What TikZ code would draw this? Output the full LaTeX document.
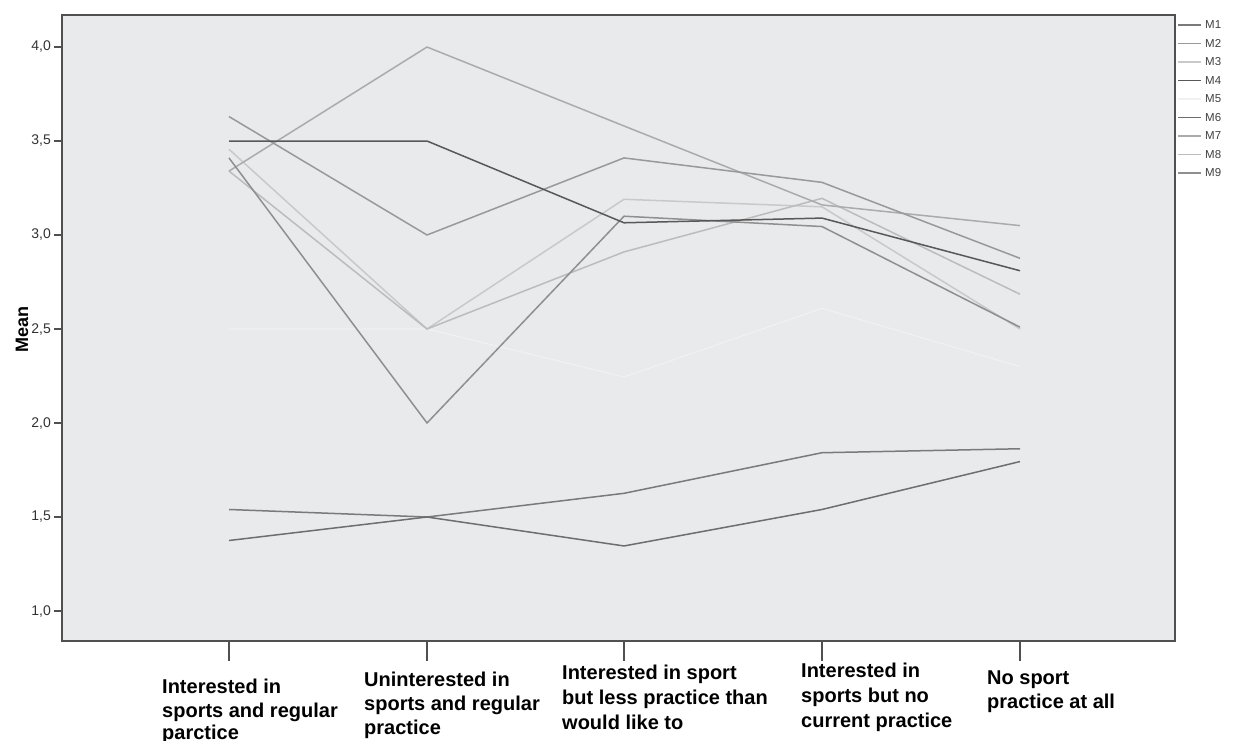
\documentclass[tikz,border=0pt]{standalone}
\usepackage{fontspec}
\setmainfont{Liberation Sans}
\definecolor{plotbg}{HTML}{E9EAEC}
\definecolor{framec}{HTML}{505050}
\definecolor{cM1}{HTML}{7A7A7A}
\definecolor{cM2}{HTML}{999999}
\definecolor{cM3}{HTML}{C9C9C9}
\definecolor{cM4}{HTML}{585858}
\definecolor{cM5}{HTML}{F1F1F2}
\definecolor{cM6}{HTML}{6E6E6E}
\definecolor{cM7}{HTML}{ABABAB}
\definecolor{cM8}{HTML}{BCBCBC}
\definecolor{cM9}{HTML}{8F8F8F}
\begin{document}
\begin{tikzpicture}[x=1pt,y=-1pt,
  declare function={Y(\v)=47+(4-\v)*188;},
  ser/.style={line width=1.5pt, line join=round},
  ylab/.style={font=\fontsize{14}{16}\selectfont, text=black!80, anchor=east, inner sep=0pt},
  xlab/.style={font=\bfseries\fontsize{20}{24}\selectfont, anchor=base west, inner sep=0pt},
  leg/.style={font=\fontsize{11.5}{13}\selectfont, text=black!75, anchor=west, inner sep=0pt},
  legline/.style={line width=1.5pt}]
\useasboundingbox[fill=white] (0,0) rectangle (1235,740);
\fill[plotbg] (62,15) rectangle (1175,641);

% series
\draw[ser,cM5,line width=1.2pt] (229,{Y(2.5)}) -- (427,{Y(2.5)}) -- (624,{Y(2.245)}) -- (822,{Y(2.61)}) -- (1020,{Y(2.30)});
\draw[ser,cM3] (229,{Y(3.456)}) -- (427,{Y(2.5)}) -- (624,{Y(3.19)}) -- (822,{Y(3.15)}) -- (1020,{Y(2.50)});
\draw[ser,cM8] (229,{Y(3.34)}) -- (427,{Y(2.5)}) -- (624,{Y(2.91)}) -- (822,{Y(3.195)}) -- (1020,{Y(2.685)});
\draw[ser,cM7] (229,{Y(3.34)}) -- (427,{Y(4.0)}) -- (624,{Y(3.58)}) -- (822,{Y(3.16)}) -- (1020,{Y(3.05)});
\draw[ser,cM2] (229,{Y(3.63)}) -- (427,{Y(3.0)}) -- (624,{Y(3.41)}) -- (822,{Y(3.28)}) -- (1020,{Y(2.876)});
\draw[ser,cM9] (229,{Y(3.41)}) -- (427,{Y(2.0)}) -- (624,{Y(3.10)}) -- (822,{Y(3.045)}) -- (1020,{Y(2.51)});
\draw[ser,cM4] (229,{Y(3.5)}) -- (427,{Y(3.5)}) -- (624,{Y(3.065)}) -- (822,{Y(3.09)}) -- (1020,{Y(2.81)});
\draw[ser,cM1] (229,{Y(1.54)}) -- (427,{Y(1.50)}) -- (624,{Y(1.626)}) -- (822,{Y(1.842)}) -- (1020,{Y(1.863)});
\draw[ser,cM6] (229,{Y(1.375)}) -- (427,{Y(1.50)}) -- (624,{Y(1.346)}) -- (822,{Y(1.54)}) -- (1020,{Y(1.795)});

% frame
\draw[framec,line width=1.5pt] (62,15) rectangle (1175,641);

% y ticks and labels
\foreach \v/\t in {4.0/{4,0},3.5/{3,5},3.0/{3,0},2.5/{2,5},2.0/{2,0},1.5/{1,5},1.0/{1,0}}{
  \draw[framec,line width=1.2pt] (54,{Y(\v)}) -- (62,{Y(\v)});
  \node[ylab] at (51,{Y(\v)}) {\t};
}
\node[rotate=90, font=\bfseries\fontsize{18}{20}\selectfont, inner sep=0pt] (mean) at (22,329) {Mean};

% x ticks
\foreach \x in {229,427,624,822,1020}{
  \draw[framec,line width=1.2pt] (\x,641) -- (\x,661);
}

% x labels
\node[xlab] (c1a) at (162,693) {Interested in};
\node[xlab] (c1b) at (162,717) {sports and regular};
\node[xlab] (c1c) at (162,739) {parctice};
\node[xlab] (c2a) at (364,686) {Uninterested in};
\node[xlab] (c2b) at (364,710) {sports and regular};
\node[xlab] (c2c) at (364,734) {practice};
\node[xlab] (c3a) at (562,679) {Interested in sport};
\node[xlab] (c3b) at (562,704) {but less practice than};
\node[xlab] (c3c) at (562,729) {would like to};
\node[xlab] (c4a) at (801,677) {Interested in};
\node[xlab] (c4b) at (801,702) {sports but no};
\node[xlab] (c4c) at (801,727) {current practice};
\node[xlab] (c5a) at (987,684) {No sport};
\node[xlab] (c5b) at (987,708) {practice at all};

% legend
\foreach \i/\c in {1/cM1,2/cM2,3/cM3,4/cM4,5/cM5,6/cM6,7/cM7,8/cM8,9/cM9}{
  \draw[legline,\c] (1178,{25+18.5*(\i-1)}) -- (1201,{25+18.5*(\i-1)});
  \node[leg] (leg\i) at (1205,{25+18.5*(\i-1)}) {M\i};
}
\end{tikzpicture}
\end{document}
